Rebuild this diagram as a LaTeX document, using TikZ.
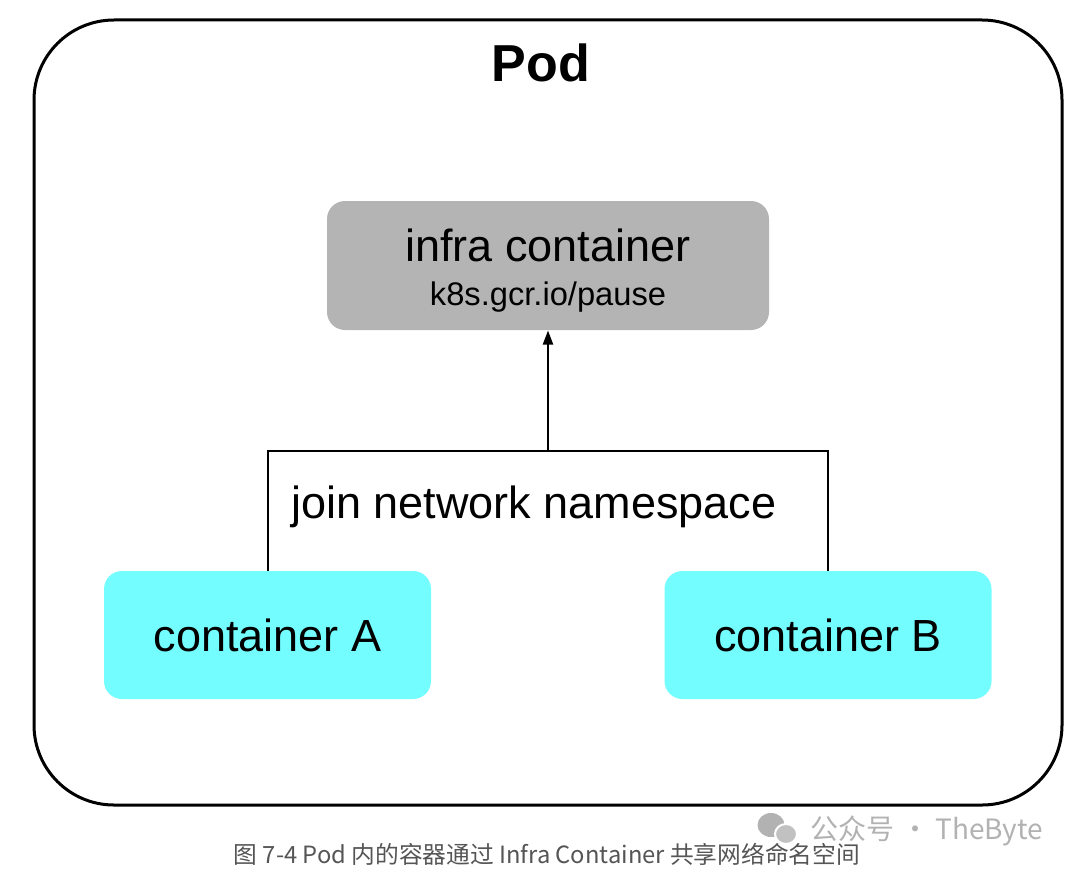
\documentclass[tikz,border=0pt]{standalone}
\usepackage{fontspec}
\setmainfont{Liberation Sans}
\newfontfamily\cjk{Noto Sans CJK SC}
\usepackage{tikz}
\usetikzlibrary{arrows.meta}
\tikzset{every picture/.style={line width=0.75pt}}
\definecolor{infragray}{RGB}{180,180,180}
\definecolor{ctrcyan}{RGB}{115,253,255}
\definecolor{capgray}{RGB}{85,85,85}
\definecolor{markgray}{RGB}{178,178,178}

\begin{document}
\begin{tikzpicture}[x=0.75pt,y=0.75pt,yscale=-1,xscale=1,
    ctrbox/.style={rounded corners=13.5pt, inner sep=0pt, align=center,
      font=\fontsize{33.75}{40}\selectfont},
    link/.style={line width=1.5pt}]
\useasboundingbox (0,0) rectangle (1080,874);
% pod frame
\draw [line width=2.25pt, rounded corners=60pt] (34,20) rectangle (1062,805);
\draw (541,63) node [font=\fontsize{39}{46}\selectfont\bfseries] (pod) {Pod};
% containers
\draw (548,265.5) node [ctrbox, fill=infragray, minimum width=331.5pt, minimum height=96.75pt,
    label={[align=center, yshift=-4pt, font=\fontsize{33.75}{40}\selectfont]center:infra container\\[-6.75pt]{\fontsize{24.5}{30}\selectfont k8s.gcr.io/pause}}] (infra) {};
\draw (267.5,635) node [ctrbox, fill=ctrcyan, minimum width=245.25pt, minimum height=96pt] (ca) {container A};
\draw (828,635) node [ctrbox, fill=ctrcyan, minimum width=245.25pt, minimum height=96pt] (cb) {container B};
% join lines
\coordinate (jn) at (548,451);
\draw [link] (ca.north) |- (jn) -- (jn -| cb.north) -- (cb.north);
\draw [link, -{Triangle[length=10.5pt, width=7.5pt]}] (jn) -- (infra.south);
\draw (534,507) node [font=\fontsize{33.75}{40}\selectfont] (joinlbl) {join network namespace};
% caption and watermark
\draw (547,854) node [text=capgray, font=\cjk\fontsize{17.8}{21}\selectfont] (cap)
  {图 7-4 Pod 内的容器通过 Infra Container 共享网络命名空间};
\fill [markgray] (771,825) ellipse (13.5 and 12);
\draw [fill=markgray!80, draw=white, line width=1.5pt] (786,834) ellipse (11 and 10);
\draw (927,831) node [text=markgray, font=\cjk\fontsize{21}{26}\selectfont] (mark) {公众号 · TheByte};
\end{tikzpicture}
\end{document}
